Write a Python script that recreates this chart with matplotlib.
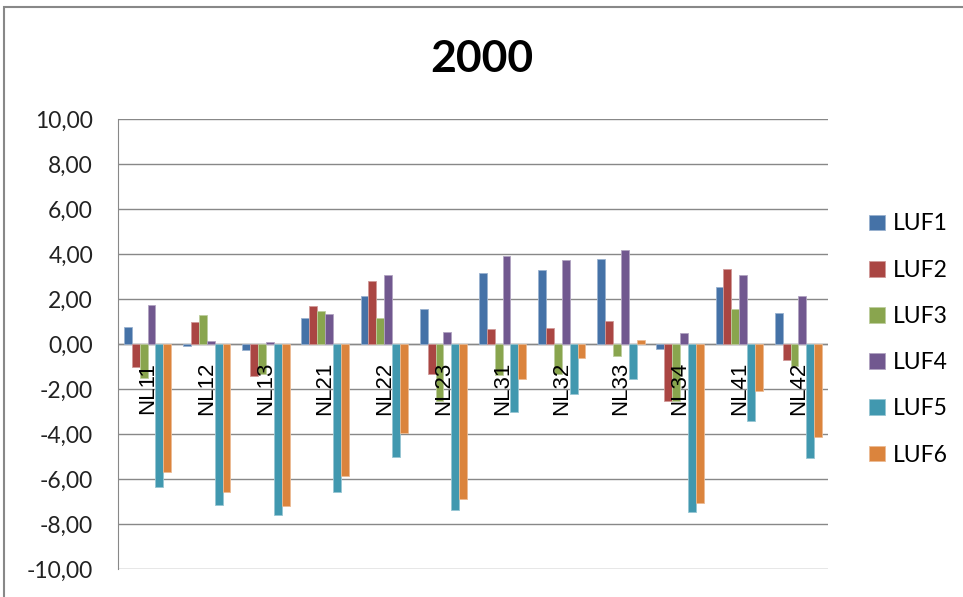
import matplotlib.pyplot as plt
import matplotlib.patches as mpatches
import numpy as np

regions = ['NL11', 'NL12', 'NL13', 'NL21', 'NL22', 'NL23',
           'NL31', 'NL32', 'NL33', 'NL34', 'NL41', 'NL42']
series = ['LUF1', 'LUF2', 'LUF3', 'LUF4', 'LUF5', 'LUF6']

luf1 = [0.77, -0.07, -0.25, 1.17, 2.13, 1.56, 3.16, 3.27, 3.78, -0.24, 2.52, 1.39]
luf2 = [-1.04, 0.99, -1.44, 1.67, 2.81, -1.33, 0.65, 0.70, 1.01, -2.53, 3.33, -0.70]
luf3 = [-1.51, 1.29, -1.33, 1.45, 1.16, -2.53, -1.38, -1.32, -0.52, -2.55, 1.57, -0.97]
luf4 = [1.73, 0.13, 0.07, 1.33, 3.05, 0.53, 3.90, 3.72, 4.18, 0.47, 3.05, 2.12]
luf5 = [-6.34, -7.14, -7.60, -6.56, -5.04, -7.36, -3.04, -2.24, -1.56, -7.48, -3.44, -5.08]
luf6 = [-5.70, -6.56, -7.20, -5.88, -3.97, -6.90, -1.56, -0.64, 0.19, -7.08, -2.07, -4.12]
values = [luf1, luf2, luf3, luf4, luf5, luf6]

colors = ['#4572A7', '#AA4643', '#89A54E', '#71588F', '#4198AF', '#DB843D']
grid_col = '#888888'

W, H = 963, 597
fig = plt.figure(figsize=(W / 100, H / 100), dpi=100)
ax = fig.add_axes([118 / W, 1 - 569 / H, (828 - 118) / W, (569 - 119) / H])

x = np.arange(len(regions))
width = 0.8 / len(series)
for k, (name, vals, col) in enumerate(zip(series, values, colors)):
    edge = tuple(0.55 * np.array(plt.matplotlib.colors.to_rgb(col)) + 0.45)
    ax.bar(x + (k - 2.5) * width, vals, width, color=col, edgecolor=edge,
           linewidth=0.6, label=name, zorder=3)

ax.set_xlim(-0.5, len(regions) - 0.5)
ax.set_ylim(-10, 10)
yt = np.arange(-10, 11, 2)
ax.set_yticks(yt)
ax.set_yticklabels([f'{v:.2f}'.replace('.', ',') for v in yt],
                   fontsize=16.5, family='Lato', color='#222222')
ax.tick_params(axis='y', length=0, pad=18)
ax.set_xticks([])
ax.grid(axis='y', color=grid_col, linewidth=1, zorder=0)
ax.axhline(0, color=grid_col, linewidth=1, zorder=2)
for s in ['top', 'right', 'bottom']:
    ax.spines[s].set_visible(False)
ax.spines['left'].set_color(grid_col)

# category labels sit on the zero line, rotated
for i, name in enumerate(regions):
    ax.annotate(name, (i, 0), xytext=(0, -13), textcoords='offset points',
                rotation=90, ha='center', va='top', fontsize=16,
                family='Liberation Sans', zorder=5)

fig.text(0.5, 1 - 59 / H, '2000', ha='center', va='center',
         fontsize=32, fontweight='bold', family='Lato')

fig.legend(loc='center left', bbox_to_anchor=(869 / W, 1 - 339.5 / H),
           frameon=False, prop={'family': 'Lato', 'size': 16.5},
           handlelength=0.68, handleheight=0.68, handletextpad=0.35,
           labelspacing=1.1, borderpad=0, borderaxespad=0)

fig.patches.append(mpatches.Rectangle((4 / W, -0.1), 1.2, 1 - 7 / H + 0.1,
                                      transform=fig.transFigure, fill=False,
                                      edgecolor='#888888', linewidth=1.5))

fig.savefig('out.png', dpi=100)
